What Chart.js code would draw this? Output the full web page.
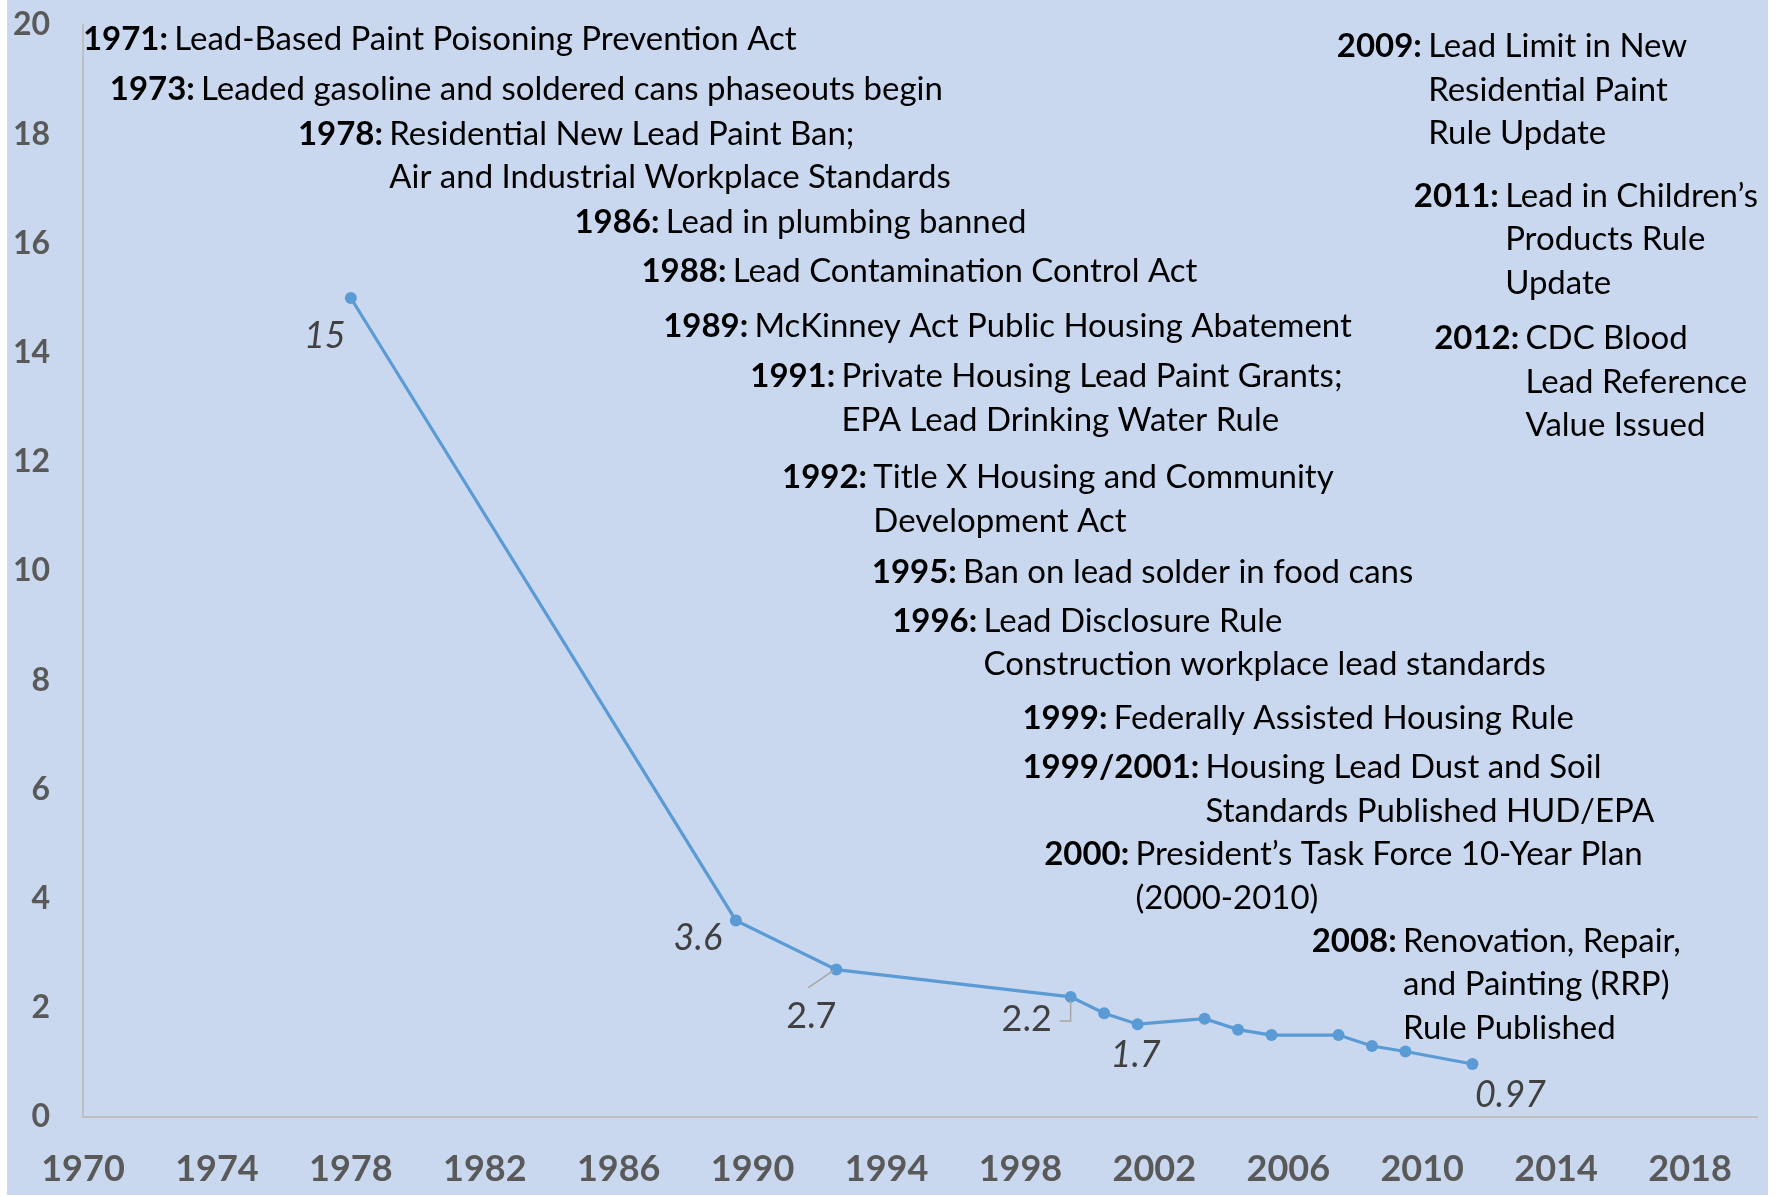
<!DOCTYPE html>
<html>
<head>
<meta charset="utf-8">
<script src="https://cdn.jsdelivr.net/npm/chart.js@4.4.1/dist/chart.umd.min.js"></script>
<style>
  html, body { margin: 0; padding: 0; background: #ffffff; }
  #wrap { position: absolute; left: 7px; top: 0; width: 1761px; height: 1195px; background: #C9D8EE; }
  canvas { display: block; }
</style>
</head>
<body>
<div id="wrap"><canvas id="c" width="1761" height="1195"></canvas></div>
<script>
// ---------------- DATA ----------------
const years = [1978, 1989.5, 1992.5, 1999.5, 2000.5, 2001.5, 2003.5, 2004.5, 2005.5, 2007.5, 2008.5, 2009.5, 2011.5];
const bloodLead = [15, 3.6, 2.7, 2.2, 1.9, 1.7, 1.8, 1.6, 1.5, 1.5, 1.3, 1.2, 0.97];
const labelledPoints = [0, 1, 2, 3, 5, 12];
const labelTexts = ['15', '3.6', '2.7', '2.2', '1.7', '0.97'];
const xTickLabels = [1970, 1974, 1978, 1982, 1986, 1990, 1994, 1998, 2002, 2006, 2010, 2014, 2018];
const yTickLabels = [0, 2, 4, 6, 8, 10, 12, 14, 16, 18, 20];
const eventYears = ['1971:', '1973:', '1978:', '1986:', '1988:', '1989:', '1991:', '1992:', '1995:', '1996:', '1999:', '1999/2001:', '2000:', '2008:', '2009:', '2011:', '2012:'];
const eventTexts = [
  ['Lead-Based Paint Poisoning Prevention Act'],
  ['Leaded gasoline and soldered cans phaseouts begin'],
  ['Residential New Lead Paint Ban;', 'Air and Industrial Workplace Standards'],
  ['Lead in plumbing banned'],
  ['Lead Contamination Control Act'],
  ['McKinney Act Public Housing Abatement'],
  ['Private Housing Lead Paint Grants;', 'EPA Lead Drinking Water Rule'],
  ['Title X Housing and Community', 'Development Act'],
  ['Ban on lead solder in food cans'],
  ['Lead Disclosure Rule', 'Construction workplace lead standards'],
  ['Federally Assisted Housing Rule'],
  ['Housing Lead Dust and Soil', 'Standards Published HUD/EPA'],
  ['President\u2019s Task Force 10-Year Plan', '(2000-2010)'],
  ['Renovation, Repair,', 'and Painting (RRP)', 'Rule Published'],
  ['Lead Limit in New', 'Residential Paint', 'Rule Update'],
  ['Lead in Children\u2019s', 'Products Rule', 'Update'],
  ['CDC Blood', 'Lead Reference', 'Value Issued']
];

// ---------------- LAYOUT (positions / styles) ----------------
// annotation anchors in axis units: [year, value] = left edge, vertical centre of first line
const eventAnchors = [
  [1970.0, 19.77], [1970.8, 18.85], [1976.42, 18.04], [1984.68, 16.42], [1986.68, 15.53],
  [1987.33, 14.51], [1989.93, 13.60], [1990.88, 11.75], [1993.56, 10.01], [1994.17, 9.12],
  [1998.06, 7.33], [1998.06, 6.44], [1998.71, 4.84], [2006.70, 3.26], [2007.45, 19.64],
  [2009.75, 16.90], [2010.36, 14.29]
];
// data label offsets from the point (px) and italic flag
const labelOffsets = [[-26, 38], [-38, 18], [-25, 47], [-44, 23], [-2, 31], [38, 31]];
const labelItalic = [true, true, false, false, true, true];
// leader lines (px offsets from point)
const leaders = { 2: [[-28, 18], [-3, 1]], 3: [[0, 4], [0, 24], [-11, 24]] };

const FAMILY = 'Lato, "Open Sans", sans-serif';
const LINE_GAP = 43.5;

const annotationPlugin = {
  id: 'annotations',
  afterDatasetsDraw(chart) {
    const ctx = chart.ctx;
    const xs = chart.scales.x, ys = chart.scales.y;
    ctx.save();
    // fit annotation font to the reference width of the first line
    ctx.font = 'bold 32px ' + FAMILY;
    let w = ctx.measureText(eventYears[0]).width;
    ctx.font = '32px ' + FAMILY;
    w += ctx.measureText(' ' + eventTexts[0][0]).width;
    const aSize = 32 * 716 / w;
    ctx.textBaseline = 'middle';
    ctx.fillStyle = '#000000';
    eventYears.forEach((yr, i) => {
      const x = xs.getPixelForValue(eventAnchors[i][0]);
      const y = ys.getPixelForValue(eventAnchors[i][1]) + 2;
      ctx.font = 'bold ' + aSize + 'px ' + FAMILY;
      ctx.textAlign = 'left';
      ctx.fillText(yr, x, y);
      const wb = ctx.measureText(yr).width;
      ctx.font = aSize + 'px ' + FAMILY;
      const ind = x + wb + ctx.measureText(' ').width * 0.75;
      eventTexts[i].forEach((line, k) => {
        ctx.fillText(line, ind, y + k * LINE_GAP);
      });
    });
    // data labels
    const meta = chart.getDatasetMeta(0);
    labelledPoints.forEach((idx, j) => {
      const pt = meta.data[idx];
      ctx.font = (labelItalic[j] ? 'italic ' : '') + '36px ' + FAMILY;
      ctx.fillStyle = '#404040';
      ctx.textAlign = 'center';
      ctx.fillText(labelTexts[j], pt.x + labelOffsets[j][0], pt.y + labelOffsets[j][1]);
      if (leaders[idx]) {
        ctx.strokeStyle = '#A6A6A6';
        ctx.lineWidth = 1.5;
        ctx.beginPath();
        leaders[idx].forEach((p, k) => {
          if (k === 0) ctx.moveTo(pt.x + p[0], pt.y + p[1]);
          else ctx.lineTo(pt.x + p[0], pt.y + p[1]);
        });
        ctx.stroke();
      }
    });
    ctx.restore();
  }
};

new Chart(document.getElementById('c'), {
  type: 'line',
  data: {
    datasets: [{
      data: years.map((x, i) => ({ x: x, y: bloodLead[i] })),
      borderColor: '#5B9BD5',
      backgroundColor: '#5B9BD5',
      pointBackgroundColor: '#5B9BD5',
      pointBorderWidth: 0,
      pointRadius: 6,
      borderWidth: 3.2,
      tension: 0,
      clip: false
    }]
  },
  options: {
    responsive: false,
    animation: false,
    events: [],
    layout: { padding: { top: 25, right: 11, left: 0, bottom: 0 } },
    plugins: { legend: { display: false }, tooltip: { enabled: false } },
    scales: {
      x: {
        type: 'linear', min: 1970, max: 2020,
        afterBuildTicks: s => { s.ticks = xTickLabels.map(v => ({ value: v })); },
        afterFit: s => { s.height = 78; s.paddingLeft = 0; s.paddingRight = 0; },
        grid: { display: false, drawTicks: false },
        border: { display: true, color: '#BFBFBF', width: 2 },
        ticks: {
          autoSkip: false, maxRotation: 0, padding: 31,
          color: '#595959',
          font: { family: FAMILY, size: 36, weight: 'bold' },
          callback: v => String(v)
        }
      },
      y: {
        type: 'linear', min: 0, max: 20,
        afterBuildTicks: s => { s.ticks = yTickLabels.map(v => ({ value: v })); },
        afterFit: s => { s.width = 76; s.paddingTop = 0; s.paddingBottom = 0; },
        grid: { display: false, drawTicks: false },
        border: { display: true, color: '#BFBFBF', width: 2 },
        ticks: {
          padding: 33,
          color: '#595959',
          font: { family: FAMILY, size: 32, weight: 'bold' },
          callback: v => String(v)
        }
      }
    }
  },
  plugins: [annotationPlugin]
});
</script>
</body>
</html>
